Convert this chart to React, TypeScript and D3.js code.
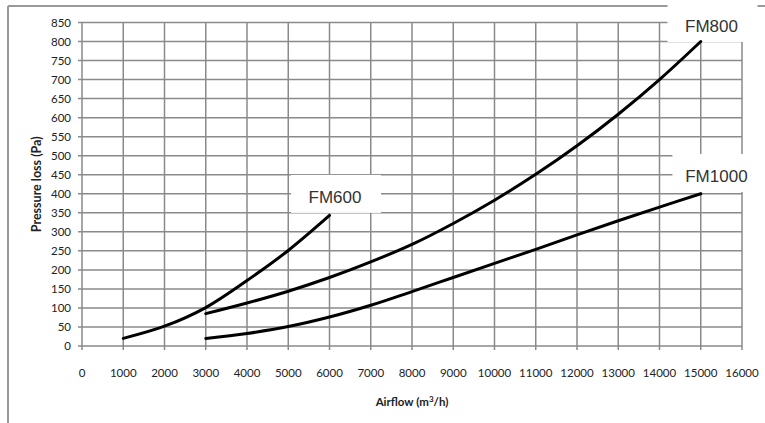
import React from "react";
import * as d3 from "d3";

// airflow (m3/h) vs pressure loss (Pa)
const fm600Flow = [1000, 2000, 3000, 4000, 5000, 6000];
const fm600Loss = [20, 52, 101, 172, 251, 343];

const fm800Flow = [3000, 4000, 5000, 6000, 7000, 8000, 9000, 10000, 11000, 12000, 13000, 14000, 15000];
const fm800Loss = [85, 113, 144, 180, 221, 267, 322, 383, 451, 526, 609, 700, 800];

const fm1000Flow = [3000, 4000, 5000, 6000, 7000, 8000, 9000, 10000, 11000, 12000, 13000, 14000, 15000];
const fm1000Loss = [20, 33, 51, 76, 107, 143, 180, 217, 254, 292, 329, 365, 400];

const series = [
  { name: "FM600", flow: fm600Flow, loss: fm600Loss },
  { name: "FM800", flow: fm800Flow, loss: fm800Loss },
  { name: "FM1000", flow: fm1000Flow, loss: fm1000Loss },
];

const xTicks = d3.range(0, 16001, 1000);
const yTicks = d3.range(0, 851, 50);

// series labels: text centre (flow) and baseline (loss)
const labelNames = ["FM600", "FM800", "FM1000"];
const labelFlow = [6133, 15260, 15380];
const labelLoss = [376, 825, 431];

const width = 765;
const height = 423;
const margin = { left: 82, right: 23, top: 22.5, bottom: 77 };

const grid = "#8a8a8a";

export default function App() {
  const x = d3.scaleLinear().domain([0, 16000]).range([margin.left, width - margin.right]);
  const y = d3.scaleLinear().domain([0, 850]).range([height - margin.bottom, margin.top]);

  const line = d3
    .line<[number, number]>()
    .x((d) => x(d[0]))
    .y((d) => y(d[1]))
    .curve(d3.curveCatmullRom);

  const y0 = y(0);
  const x0 = x(0);

  return (
    <svg
      width={width}
      height={height}
      style={{ position: "absolute", left: 0, top: 0, background: "#fff" }}
    >
      {/* outer frame */}
      <line x1={8} x2={width} y1={6} y2={6} stroke="#999" strokeWidth={2} />
      <line x1={8} x2={8} y1={6} y2={height} stroke="#999" strokeWidth={2} />

      {/* grid */}
      <g stroke={grid} strokeWidth={1.5}>
        {yTicks.map((t) => (
          <line key={"h" + t} x1={x0 - 4} x2={x(16000)} y1={y(t)} y2={y(t)} />
        ))}
        {xTicks.map((t) => (
          <line key={"v" + t} x1={x(t)} x2={x(t)} y1={y(850)} y2={y0 + 4} />
        ))}
      </g>

      {/* tick labels */}
      <g fontFamily="Lato" fontSize={11.5} fill="#222">
        {yTicks.map((t) => (
          <text key={"yl" + t} x={71} y={y(t)} dy="0.36em" textAnchor="end">
            {t}
          </text>
        ))}
        {xTicks.map((t) => (
          <text key={"xl" + t} x={x(t)} y={377} textAnchor="middle">
            {t}
          </text>
        ))}
      </g>

      {/* axis titles */}
      <text
        x={(x0 + x(16000)) / 2}
        y={405.5}
        textAnchor="middle"
        fontFamily="Lato"
        fontWeight="bold"
        fontSize={11.5}
        fill="#222"
      >
        Airflow (m<tspan dy={-4} fontSize={8}>3</tspan>
        <tspan dy={4}>/h)</tspan>
      </text>
      <text
        transform={`translate(40.5, ${(y(0) + y(850)) / 2}) rotate(-90)`}
        textAnchor="middle"
        fontFamily="Lato"
        fontWeight="bold"
        fontSize={12.5}
        fill="#222"
      >
        Pressure loss (Pa)
      </text>

      {/* label boxes hide the grid behind them */}
      {labelNames.map((name, i) => {
        const cx = x(labelFlow[i]);
        const by = y(labelLoss[i]);
        return (
          <g key={name}>
            <rect x={cx - 44} y={by - 28} width={90} height={38} fill="#fff" />
            <text
              x={cx}
              y={by}
              textAnchor="middle"
              fontFamily="Liberation Sans"
              fontSize={17}
              fill="#333"
            >
              {name}
            </text>
          </g>
        );
      })}

      {/* curves */}
      {series.map((s) => (
        <path
          key={s.name}
          d={line(s.flow.map((f, i) => [f, s.loss[i]] as [number, number])) || ""}
          fill="none"
          stroke="#000"
          strokeWidth={3}
          strokeLinecap="round"
        />
      ))}
    </svg>
  );
}
